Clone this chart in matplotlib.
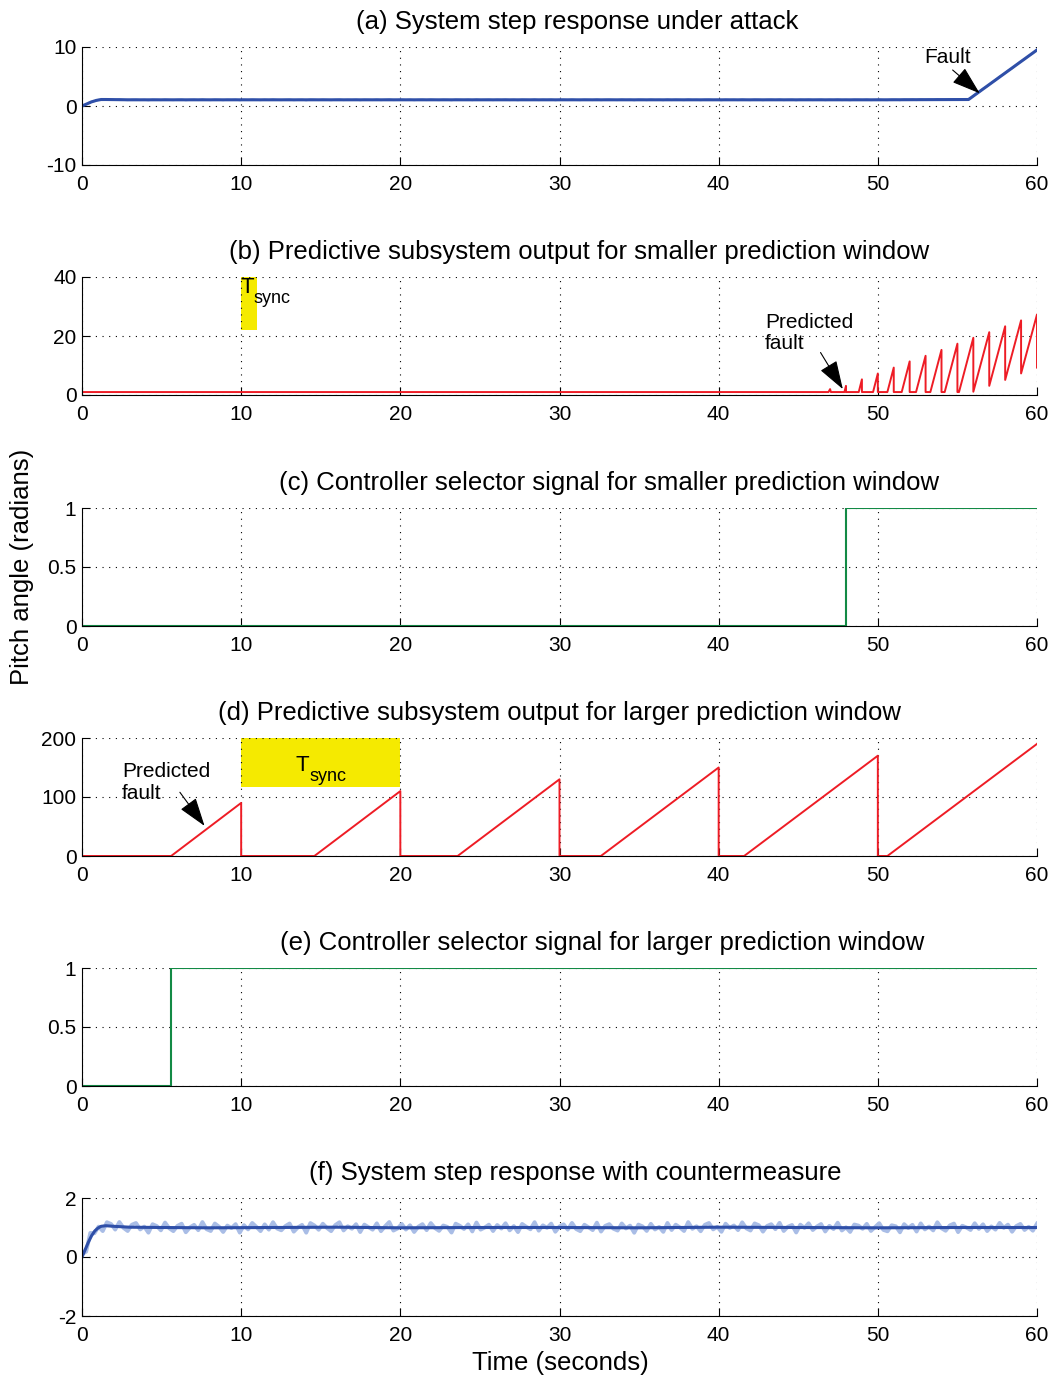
import numpy as np
import matplotlib
matplotlib.use('Agg')
import matplotlib.pyplot as plt
from matplotlib.patches import Rectangle

plt.rcParams['font.family'] = ['Liberation Sans', 'DejaVu Sans']

# ---- data ----
# (a) system step response under attack (smooth trace vertices)
a_t = [0, 0.3, 0.6, 0.9, 1.2, 1.5, 3, 10, 20, 30, 40, 50, 55.7, 60]
a_v = [0, 0.35, 0.7, 0.95, 1.1, 1.1, 1.05, 1.05, 1.05, 1.05, 1.05, 1.05, 1.1, 9.5]

# (b) predictive output, smaller window (sawtooth vertices)
b_t = [0, 46.9, 47.0, 47.05, 47.9, 48.0, 48.0, 48.8, 49.0, 49.0, 49.7, 50.0, 50.0,
       50.6, 51.0, 51.0, 51.5, 52.0, 52.0, 52.4, 53.0, 53.0, 53.3, 54.0, 54.0,
       54.2, 55.0, 55.0, 55.1, 56.0, 56.0, 57.0, 57.0, 58.0, 58.0, 59.0, 59.0,
       60.0, 60.0]
b_v = [1, 1, 2, 1, 1, 3.1, 1, 1, 5.3, 1, 1, 7.3, 1,
       1, 9.3, 1, 1, 11.4, 1, 1, 13.3, 1, 1, 15.3, 1,
       1, 17.4, 1, 1, 19.4, 1.1, 21.3, 3.1, 23.3, 5.1, 25.3, 7.3,
       27.3, 9.3]

# (c) controller selector, smaller window
c_t = [0, 48.0, 48.0, 60]
c_v = [0, 0, 1, 1]

# (d) predictive output, larger window
d_t = [0, 5.6, 10, 10, 14.6, 20, 20, 23.6, 30, 30, 32.6, 40, 40, 41.6, 50, 50, 50.6, 60]
d_v = [0, 0, 90, 0, 0, 110, 0, 0, 130, 0, 0, 150, 0, 0, 170, 0, 0, 190]

# (e) controller selector, larger window
e_t = [0, 5.6, 5.6, 60]
e_v = [0, 0, 1, 1]

# (f) system step response with countermeasure (smooth trace vertices)
f_t = [0, 0.2, 0.4, 0.6, 0.8, 1.0, 1.2, 1.5, 2, 3, 5, 8, 12, 16, 20, 25, 30,
       35, 40, 45, 50, 55, 60]
f_v = [0, 0.25, 0.5, 0.72, 0.88, 0.98, 1.04, 1.06, 1.04, 1.01, 1.0, 0.99, 1.0,
       1.01, 0.99, 1.0, 1.0, 0.99, 1.01, 1.0, 0.99, 1.0, 1.0]

# sensor noise around the measured trace (hundredths), 0.25 s steps
noise = [8, -12, 15, -5, 3, -14, 10, 6, -9, 13, -3, -11, 7, 12, -6, 2, -15, 9, 4, -8,
         14, -2, -10, 5, 11, -13, 1, 8, -7, 16, -4, -9, 12, 3, -12, 6, -1, 10, -14, 7,
         -5, 13, 2, -10, 9, -6, 15, -3, -8, 4, 11, -12, 0, 7, -15, 12, 5, -7, 10, -2,
         -11, 6, 14, -9, 3, -4, 9, -13, 8, 1, -6, 12, -10, 4, 16, -8, -2, 11, -5, 7,
         -12, 3, 10, -7, 13, -1, -9, 6, 2, -14, 11, 5, -4, 9, -11, 14, -6, 0, 8, -10,
         7, -3, 12, -8, 4, -13, 10, 2, -5, 15, -9, 6, -1, 11, -12, 3, 9, -6, 13, -4,
         -10, 8, 1, -7, 14, -11, 5, 10, -3, -8, 12, -2, 6, -14, 9, 4, -9, 11, -5, 2,
         -12, 13, -7, 8, 0, -10, 15, -4, 3, -11, 7, 12, -6, 1, -13, 10, -2, 5, -8, 14,
         -3, -9, 11, 6, -12, 4, 9, -5, 13, -10, 2, 7, -14, 8, -1, 12, -7, 3, 10, -11,
         5, -4, 14, -8, 1, -12, 9, 6, -3, 11, -9, 2, 13, -6, -10, 7, 4, -13, 10, -1,
         8, -11, 12, -5, 3, -8, 15, -2, -9, 6, 11, -13, 5, 0, -7, 12, -4, 9, -10, 3,
         -6, 13, -1, 8, -12, 4, 10, -7, 2, -9, 11]

titles = ['(a) System step response under attack',
          '(b) Predictive subsystem output for smaller prediction window',
          '(c) Controller selector signal for smaller prediction window',
          '(d) Predictive subsystem output for larger prediction window',
          '(e) Controller selector signal for larger prediction window',
          '(f) System step response with countermeasure']
title_x = [0.519, 0.521, 0.552, 0.5, 0.545, 0.516]
ylims = [(-10, 10), (0, 40), (0, 1), (0, 200), (0, 1), (-2, 2)]
yticks = [[-10, 0, 10], [0, 20, 40], [0, 0.5, 1], [0, 100, 200], [0, 0.5, 1], [-2, 0, 2]]
yticklabels = [['-10', '0', '10'], ['0', '20', '40'], ['0', '0.5', '1'],
               ['0', '100', '200'], ['0', '0.5', '1'], ['-2', '0', '2']]

BLUE = '#2f4fa8'
LIGHT = '#a9bde6'
RED = '#ee1c25'
GREEN = '#138a45'
YELLOW = '#f5ea00'

W, H = 1052, 1378
fig = plt.figure(figsize=(W / 100, H / 100), dpi=100)
tops = [47, 277, 508, 738, 968, 1198]
axh = 118
axes = []
for i, top in enumerate(tops):
    ax = fig.add_axes([82 / W, 1 - (top + axh) / H, 955 / W, axh / H])
    ax.set_xlim(0, 60)
    ax.set_ylim(*ylims[i])
    ax.set_xticks([0, 10, 20, 30, 40, 50, 60])
    ax.set_yticks(yticks[i])
    ax.set_yticklabels(yticklabels[i])
    ax.tick_params(direction='in', length=6, width=0.8, labelsize=15)
    ax.tick_params(axis='x', pad=7)
    ax.tick_params(axis='y', pad=4)
    ax.grid(True, linestyle=(0, (1, 5)), color='black', linewidth=0.8)
    ax.spines['top'].set_visible(False)
    ax.spines['right'].set_visible(False)
    ax.set_title(titles[i], x=title_x[i], fontsize=18.5, pad=13)
    axes.append(ax)

nt = np.linspace(0, 60, len(noise))
nz = np.array(noise) / 100.0

arrow = dict(arrowstyle='-|>,head_length=0.9,head_width=0.3', color='black',
             lw=0.8, mutation_scale=20, shrinkA=0, shrinkB=0)

# (a)
ax = axes[0]
ax.plot(nt, np.interp(nt, a_t, a_v) + nz * 0.6, color=LIGHT, lw=1.5)
ax.plot(a_t, a_v, color=BLUE, lw=2.2)
ax.text(54.35, 8.3, 'Fault', fontsize=15, ha='center', va='center')
ax.annotate('', xy=(56.4, 2.15), xytext=(54.7, 6.1), arrowprops=arrow)

# (b)
ax = axes[1]
ax.add_patch(Rectangle((10, 22), 1, 18, facecolor=YELLOW, edgecolor='none', zorder=1))
ax.text(9.95, 36.5, 'T', fontsize=16, ha='left', va='center', zorder=3)
ax.text(10.8, 32.8, 'sync', fontsize=13, ha='left', va='center', zorder=3)
ax.plot(b_t, b_v, color=RED, lw=1.4)
ax.text(42.9, 20.9, 'Predicted\nfault', fontsize=15, ha='left', va='center',
        linespacing=1.15)
ax.annotate('', xy=(47.8, 2.0), xytext=(46.4, 14.4), arrowprops=arrow)

# (c)
axes[2].plot(c_t, c_v, color=GREEN, lw=1.5)

# (d)
ax = axes[3]
ax.add_patch(Rectangle((10, 117), 10, 83, facecolor=YELLOW, edgecolor='none', zorder=1))
ax.text(13.4, 154, 'T', fontsize=16, ha='left', va='center', zorder=3)
ax.text(14.3, 134, 'sync', fontsize=13, ha='left', va='center', zorder=3)
ax.plot(d_t, d_v, color=RED, lw=1.4)
ax.text(2.5, 124.5, 'Predicted\nfault', fontsize=15, ha='left', va='center',
        linespacing=1.15)
ax.annotate('', xy=(7.7, 51), xytext=(6.15, 108), arrowprops=arrow)

# (e)
axes[4].plot(e_t, e_v, color=GREEN, lw=1.5)

# (f)
ax = axes[5]
ax.plot(nt, np.interp(nt, f_t, f_v) + nz * 1.2, color=LIGHT, lw=2.8)
ax.plot(f_t, f_v, color=BLUE, lw=2.2)

fig.text(22 / W, 1 - 567 / H, 'Pitch angle (radians)', rotation=90,
         ha='center', va='center', fontsize=18.5)
fig.text(560 / W, 1 - 1363 / H, 'Time (seconds)', ha='center', va='center', fontsize=18.5)

fig.savefig('out.png', dpi=100)
